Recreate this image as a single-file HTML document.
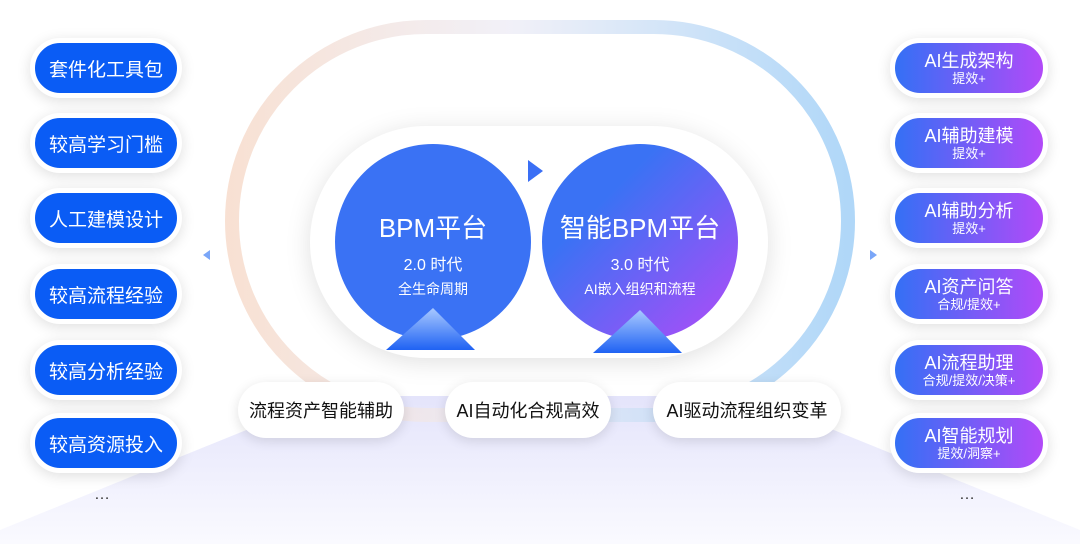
<!DOCTYPE html>
<html><head><meta charset="utf-8"><style>
*{margin:0;padding:0;box-sizing:border-box}
body{width:1080px;height:544px;background:#fff;position:relative;overflow:hidden;font-family:"Liberation Sans","Noto Sans CJK SC",sans-serif}
.p{position:absolute;border:5px solid #fff;border-radius:30px;box-shadow:0 3px 14px rgba(0,0,0,.13);color:#fff;text-align:center;display:flex;flex-direction:column;justify-content:center;align-items:center}
.l{left:30px;width:152px;height:60px;background:#0a5cf5;font-size:19px}
.r{left:890px;width:158px;height:60px;background:linear-gradient(90deg,#3470f5,#b24af8);font-size:18px;line-height:20px}
.r small{font-size:13px;line-height:15px}
.b{position:absolute;top:382px;height:56px;background:#fff;border-radius:28px;box-shadow:0 3px 12px rgba(0,0,0,.12);font-size:18px;display:flex;align-items:center;justify-content:center;color:#111}
.c{position:absolute;width:196px;height:196px;border-radius:50%;color:#fff;text-align:center}
</style></head><body>
<svg width="1080" height="544" style="position:absolute;left:0;top:0">
<defs>
<linearGradient id="ring" x1="0" x2="1" y1="0" y2="0"><stop offset="0" stop-color="#f6d9c8"/><stop offset=".45" stop-color="#eeedf6"/><stop offset="1" stop-color="#9ccdf6"/></linearGradient>
<linearGradient id="floor" x1="0" x2="0" y1="0" y2="1"><stop offset="0" stop-color="#e4e4fb"/><stop offset="1" stop-color="#fafaff"/></linearGradient>
</defs>
<polygon points="330,396 750,396 1080,530 1080,544 0,544 0,530" fill="url(#floor)"/>
<rect x="232" y="27" width="616" height="388" rx="194" fill="none" stroke="url(#ring)" stroke-width="14" opacity=".8"/>
<rect x="310" y="126" width="458" height="232" rx="116" fill="#fff" filter="drop-shadow(0 4px 12px rgba(0,0,0,.12))"/>
<polygon points="528,160 543,171 528,182" fill="#3a6ff5"/>
<polygon points="210,250 203,255 210,260" fill="#7aa6f8"/>
<polygon points="870,250 877,255 870,260" fill="#7aa6f8"/>
</svg>
<div class="c" style="left:335px;top:144px;background:#3a72f4"><div style="margin-top:64px;font-size:26px">BPM平台</div><div style="font-size:16px;margin-top:6px">2.0 时代</div><div style="font-size:14px;margin-top:4px">全生命周期</div></div>
<div class="c" style="left:542px;top:144px;background:linear-gradient(135deg,#3a72f4 30%,#b44af8)"><div style="margin-top:64px;font-size:26px">智能BPM平台</div><div style="font-size:16px;margin-top:6px">3.0 时代</div><div style="font-size:14px;margin-top:4px">AI嵌入组织和流程</div></div>
<svg width="1080" height="544" style="position:absolute;left:0;top:0">
<defs><linearGradient id="t2" x1="0" x2="0" y1="0" y2="1"><stop offset="0" stop-color="#a9c9ff"/><stop offset="1" stop-color="#1f62f3"/></linearGradient></defs>
<polygon points="433,308 475,350 386,350" fill="url(#t2)"/>
<polygon points="640,310 682,353 593,353" fill="url(#t2)"/>
</svg>
<div class="b" style="left:238px;width:166px">流程资产智能辅助</div>
<div class="b" style="left:445px;width:166px">AI自动化合规高效</div>
<div class="b" style="left:653px;width:188px">AI驱动流程组织变革</div>
<div class="p l" style="top:38px">套件化工具包</div>
<div class="p l" style="top:113px">较高学习门槛</div>
<div class="p l" style="top:188px">人工建模设计</div>
<div class="p l" style="top:264px">较高流程经验</div>
<div class="p l" style="top:340px">较高分析经验</div>
<div class="p l" style="top:413px">较高资源投入</div>
<div class="p r" style="top:38px">AI生成架构<small>提效+</small></div>
<div class="p r" style="top:113px">AI辅助建模<small>提效+</small></div>
<div class="p r" style="top:188px">AI辅助分析<small>提效+</small></div>
<div class="p r" style="top:264px">AI资产问答<small>合规/提效+</small></div>
<div class="p r" style="top:340px">AI流程助理<small>合规/提效/决策+</small></div>
<div class="p r" style="top:413px">AI智能规划<small>提效/洞察+</small></div>
<div style="position:absolute;left:94px;top:486px;font-size:16px;color:#333">…</div>
<div style="position:absolute;left:959px;top:486px;font-size:16px;color:#333">…</div>
</body></html>
